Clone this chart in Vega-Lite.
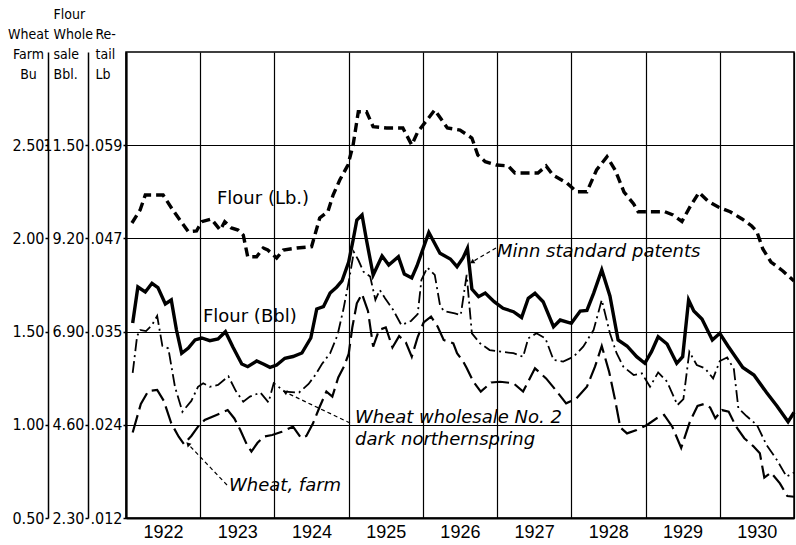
{
  "$schema": "https://vega.github.io/schema/vega-lite/v6.json",
  "width": 668,
  "height": 466,
  "autosize": {"type": "none"},
  "padding": {"left": 126, "top": 52, "right": 2, "bottom": 27},
  "background": "white",
  "config": {
    "view": {"stroke": "#000", "strokeWidth": 1.5},
    "font": "DejaVu Sans",
    "axis": {
      "domainColor": "#000", "tickColor": "#000", "labelColor": "#000", "titleColor": "#000",
      "gridColor": "#000", "gridOpacity": 1,
      "labelFont": "Liberation Sans Narrow, DejaVu Sans Condensed, Liberation Sans",
      "titleFont": "Liberation Sans Narrow, DejaVu Sans Condensed, Liberation Sans"
    }
  },
  "datasets": {
    "wheatFarm": [
      {"date":1922.09,"price":0.959},{"date":1922.20,"price":1.112},{"date":1922.30,"price":1.181},{"date":1922.42,"price":1.187},{"date":1922.51,"price":1.128},{"date":1922.61,"price":1.008},{"date":1922.71,"price":0.936},{"date":1922.78,"price":0.897},{"date":1922.88,"price":0.940},{"date":1922.97,"price":0.990},
      {"date":1923.06,"price":1.026},{"date":1923.22,"price":1.053},{"date":1923.37,"price":1.079},{"date":1923.46,"price":1.034},{"date":1923.54,"price":0.972},{"date":1923.63,"price":0.892},{"date":1923.69,"price":0.856},{"date":1923.77,"price":0.902},{"date":1923.85,"price":0.936},{"date":1923.97,"price":0.945},
      {"date":1924.10,"price":0.963},{"date":1924.25,"price":0.990},{"date":1924.36,"price":0.929},{"date":1924.43,"price":0.940},{"date":1924.52,"price":1.008},{"date":1924.61,"price":1.097},{"date":1924.70,"price":1.178},{"date":1924.78,"price":1.151},{"date":1924.86,"price":1.254},{"date":1924.94,"price":1.315},
      {"date":1925.00,"price":1.380},{"date":1925.05,"price":1.525},{"date":1925.11,"price":1.652},{"date":1925.18,"price":1.702},{"date":1925.26,"price":1.611},{"date":1925.33,"price":1.419},{"date":1925.41,"price":1.509},{"date":1925.50,"price":1.522},{"date":1925.59,"price":1.415},{"date":1925.68,"price":1.476},{"date":1925.77,"price":1.442},{"date":1925.85,"price":1.365},{"date":1925.93,"price":1.471},
      {"date":1926.01,"price":1.549},{"date":1926.11,"price":1.580},{"date":1926.20,"price":1.526},{"date":1926.28,"price":1.455},{"date":1926.41,"price":1.437},{"date":1926.46,"price":1.384},{"date":1926.54,"price":1.342},{"date":1926.59,"price":1.305},{"date":1926.68,"price":1.231},{"date":1926.78,"price":1.178},{"date":1926.92,"price":1.227},
      {"date":1927.04,"price":1.231},{"date":1927.22,"price":1.223},{"date":1927.35,"price":1.178},{"date":1927.51,"price":1.303},{"date":1927.66,"price":1.249},{"date":1927.80,"price":1.181},{"date":1927.93,"price":1.115},
      {"date":1928.07,"price":1.142},{"date":1928.21,"price":1.204},{"date":1928.32,"price":1.313},{"date":1928.41,"price":1.423},{"date":1928.51,"price":1.283},{"date":1928.59,"price":1.133},{"date":1928.66,"price":0.986},{"date":1928.75,"price":0.954},{"date":1928.88,"price":0.972},
      {"date":1929.02,"price":0.999},{"date":1929.15,"price":1.035},{"date":1929.25,"price":1.053},{"date":1929.36,"price":0.990},{"date":1929.48,"price":0.876},{"date":1929.60,"price":1.020},{"date":1929.70,"price":1.101},{"date":1929.79,"price":1.112},{"date":1929.87,"price":1.093},{"date":1929.94,"price":1.035},
      {"date":1930.03,"price":1.079},{"date":1930.12,"price":1.070},{"date":1930.22,"price":0.990},{"date":1930.33,"price":0.928},{"date":1930.45,"price":0.886},{"date":1930.54,"price":0.847},{"date":1930.60,"price":0.717},{"date":1930.69,"price":0.744},{"date":1930.81,"price":0.686},{"date":1930.91,"price":0.618},{"date":1931.00,"price":0.614}
    ],
    "wheatWholesale": [
      {"date":1922.09,"price":1.278},{"date":1922.15,"price":1.476},{"date":1922.19,"price":1.509},{"date":1922.27,"price":1.503},{"date":1922.35,"price":1.535},{"date":1922.42,"price":1.584},{"date":1922.49,"price":1.423},{"date":1922.57,"price":1.410},{"date":1922.66,"price":1.203},{"date":1922.76,"price":1.070},{"date":1922.88,"price":1.128},{"date":1922.97,"price":1.204},
      {"date":1923.04,"price":1.223},{"date":1923.13,"price":1.204},{"date":1923.24,"price":1.214},{"date":1923.38,"price":1.260},{"date":1923.48,"price":1.181},{"date":1923.58,"price":1.124},{"date":1923.67,"price":1.151},{"date":1923.81,"price":1.173},{"date":1923.92,"price":1.120},{"date":1923.99,"price":1.223},
      {"date":1924.14,"price":1.178},{"date":1924.33,"price":1.173},{"date":1924.46,"price":1.219},{"date":1924.55,"price":1.267},{"date":1924.64,"price":1.326},{"date":1924.75,"price":1.384},{"date":1924.85,"price":1.482},{"date":1924.93,"price":1.621},
      {"date":1925.00,"price":1.766},{"date":1925.07,"price":1.927},{"date":1925.13,"price":1.884},{"date":1925.20,"price":1.821},{"date":1925.29,"price":1.795},{"date":1925.36,"price":1.670},{"date":1925.42,"price":1.723},{"date":1925.49,"price":1.679},{"date":1925.60,"price":1.616},{"date":1925.71,"price":1.535},{"date":1925.84,"price":1.557},{"date":1925.93,"price":1.594},{"date":1925.98,"price":1.777},
      {"date":1926.06,"price":1.844},{"date":1926.16,"price":1.804},{"date":1926.23,"price":1.643},{"date":1926.28,"price":1.611},{"date":1926.43,"price":1.598},{"date":1926.51,"price":1.589},{"date":1926.59,"price":1.804},{"date":1926.66,"price":1.491},{"date":1926.77,"price":1.437},{"date":1926.90,"price":1.401},
      {"date":1927.06,"price":1.392},{"date":1927.22,"price":1.384},{"date":1927.35,"price":1.365},{"date":1927.42,"price":1.464},{"date":1927.53,"price":1.491},{"date":1927.65,"price":1.464},{"date":1927.76,"price":1.348},{"date":1927.89,"price":1.339},
      {"date":1928.03,"price":1.365},{"date":1928.16,"price":1.419},{"date":1928.30,"price":1.509},{"date":1928.41,"price":1.670},{"date":1928.52,"price":1.491},{"date":1928.61,"price":1.384},{"date":1928.70,"price":1.312},{"date":1928.84,"price":1.267},{"date":1928.95,"price":1.276},
      {"date":1929.06,"price":1.204},{"date":1929.17,"price":1.281},{"date":1929.29,"price":1.231},{"date":1929.43,"price":1.106},{"date":1929.51,"price":1.138},{"date":1929.59,"price":1.392},{"date":1929.69,"price":1.321},{"date":1929.80,"price":1.303},{"date":1929.91,"price":1.249},
      {"date":1930.00,"price":1.342},{"date":1930.10,"price":1.361},{"date":1930.19,"price":1.299},{"date":1930.25,"price":1.090},{"date":1930.36,"price":1.047},{"date":1930.50,"price":0.999},{"date":1930.63,"price":0.892},{"date":1930.77,"price":0.811},{"date":1930.90,"price":0.722},{"date":1931.00,"price":0.744}
    ],
    "flourBbl": [
      {"date":1922.09,"price":7.112},{"date":1922.16,"price":8.001},{"date":1922.26,"price":7.877},{"date":1922.35,"price":8.092},{"date":1922.43,"price":7.988},{"date":1922.53,"price":7.581},{"date":1922.61,"price":7.680},{"date":1922.68,"price":6.939},{"date":1922.75,"price":6.364},{"date":1922.84,"price":6.495},{"date":1922.93,"price":6.693},
      {"date":1923.02,"price":6.742},{"date":1923.13,"price":6.675},{"date":1923.24,"price":6.717},{"date":1923.34,"price":6.898},{"date":1923.44,"price":6.520},{"date":1923.56,"price":6.100},{"date":1923.64,"price":6.034},{"date":1923.76,"price":6.174},{"date":1923.85,"price":6.100},{"date":1923.94,"price":6.019},
      {"date":1924.03,"price":6.076},{"date":1924.14,"price":6.241},{"date":1924.25,"price":6.285},{"date":1924.37,"price":6.372},{"date":1924.49,"price":6.742},{"date":1924.57,"price":7.458},{"date":1924.66,"price":7.514},{"date":1924.75,"price":7.853},{"date":1924.84,"price":8.001},{"date":1924.91,"price":8.149},
      {"date":1925.00,"price":8.618},{"date":1925.06,"price":9.160},{"date":1925.11,"price":9.654},{"date":1925.18,"price":9.777},{"date":1925.24,"price":9.160},{"date":1925.33,"price":8.297},{"date":1925.45,"price":8.766},{"date":1925.54,"price":8.543},{"date":1925.67,"price":8.748},{"date":1925.75,"price":8.321},{"date":1925.85,"price":8.223},{"date":1925.92,"price":8.519},
      {"date":1926.08,"price":9.346},{"date":1926.23,"price":8.832},{"date":1926.37,"price":8.692},{"date":1926.46,"price":8.502},{"date":1926.54,"price":8.716},{"date":1926.60,"price":8.956},{"date":1926.66,"price":7.951},{"date":1926.75,"price":7.761},{"date":1926.84,"price":7.853},{"date":1926.96,"price":7.638},
      {"date":1927.08,"price":7.475},{"date":1927.22,"price":7.391},{"date":1927.33,"price":7.248},{"date":1927.42,"price":7.722},{"date":1927.51,"price":7.845},{"date":1927.62,"price":7.638},{"date":1927.76,"price":7.021},{"date":1927.85,"price":7.186},
      {"date":1928.00,"price":7.105},{"date":1928.12,"price":7.408},{"date":1928.21,"price":7.421},{"date":1928.30,"price":7.845},{"date":1928.41,"price":8.420},{"date":1928.52,"price":7.778},{"date":1928.63,"price":6.693},{"date":1928.75,"price":6.545},{"date":1928.88,"price":6.281},{"date":1928.99,"price":6.118},
      {"date":1929.08,"price":6.404},{"date":1929.17,"price":6.774},{"date":1929.29,"price":6.594},{"date":1929.42,"price":6.118},{"date":1929.50,"price":6.281},{"date":1929.58,"price":7.680},{"date":1929.65,"price":7.408},{"date":1929.76,"price":7.211},{"date":1929.90,"price":6.693},
      {"date":1930.00,"price":6.858},{"date":1930.11,"price":6.545},{"date":1930.31,"price":6.014},{"date":1930.46,"price":5.829},{"date":1930.63,"price":5.397},{"date":1930.77,"price":5.064},{"date":1930.92,"price":4.676},{"date":1931.00,"price":4.904}
    ],
    "flourLb": [
      {"date":1922.08,"price":0.04915},{"date":1922.19,"price":0.05080},{"date":1922.26,"price":0.05269},{"date":1922.50,"price":0.05269},{"date":1922.63,"price":0.05080},{"date":1922.84,"price":0.04805},{"date":1922.95,"price":0.04814},
      {"date":1923.02,"price":0.04931},{"date":1923.15,"price":0.04966},{"date":1923.27,"price":0.04826},{"date":1923.33,"price":0.04931},{"date":1923.42,"price":0.04852},{"date":1923.51,"price":0.04826},{"date":1923.58,"price":0.04763},{"date":1923.64,"price":0.04488},{"date":1923.76,"price":0.04488},{"date":1923.85,"price":0.04598},{"date":1923.91,"price":0.04573},
      {"date":1924.03,"price":0.04472},{"date":1924.12,"price":0.04573},{"date":1924.30,"price":0.04598},{"date":1924.50,"price":0.04615},{"date":1924.61,"price":0.04978},{"date":1924.72,"price":0.05058},{"date":1924.79,"price":0.05269},{"date":1924.88,"price":0.05459},{"date":1924.99,"price":0.05649},
      {"date":1925.06,"price":0.05903},{"date":1925.13,"price":0.06324},{"date":1925.24,"price":0.06324},{"date":1925.33,"price":0.06134},{"date":1925.51,"price":0.06118},{"date":1925.73,"price":0.06118},{"date":1925.85,"price":0.05903},{"date":1925.93,"price":0.06067},
      {"date":1926.16,"price":0.06346},{"date":1926.33,"price":0.06118},{"date":1926.50,"price":0.06092},{"date":1926.66,"price":0.05991},{"date":1926.74,"price":0.05776},{"date":1926.84,"price":0.05691},{"date":1926.99,"price":0.05649},
      {"date":1927.15,"price":0.05637},{"date":1927.24,"price":0.05548},{"date":1927.55,"price":0.05548},{"date":1927.66,"price":0.05637},{"date":1927.75,"price":0.05523},{"date":1927.94,"price":0.05421},
      {"date":1928.07,"price":0.05311},{"date":1928.21,"price":0.05311},{"date":1928.34,"price":0.05586},{"date":1928.48,"price":0.05754},{"date":1928.59,"price":0.05586},{"date":1928.71,"price":0.05307},{"date":1928.84,"price":0.05156},{"date":1928.90,"price":0.05058},
      {"date":1929.26,"price":0.05058},{"date":1929.37,"price":0.05016},{"date":1929.49,"price":0.04934},{"date":1929.60,"price":0.05121},{"date":1929.72,"price":0.05301},{"date":1929.84,"price":0.05193},{"date":1929.98,"price":0.05117},
      {"date":1930.14,"price":0.05058},{"date":1930.30,"price":0.04966},{"date":1930.43,"price":0.04877},{"date":1930.50,"price":0.04805},{"date":1930.58,"price":0.04586},{"date":1930.69,"price":0.04421},{"date":1930.85,"price":0.04307},{"date":1931.00,"price":0.04181}
    ],
    "labelsPlain": [
      {"date":1923.226,"price":2.211,"text":"Flour (Lb.)"},
      {"date":1923.037,"price":1.581,"text":"Flour (Bbl)"}
    ],
    "labelsItalic": [
      {"date":1926.999,"price":1.927,"text":"Minn standard patents"},
      {"date":1925.085,"price":1.036,"text":"Wheat wholesale No. 2"},
      {"date":1925.085,"price":0.918,"text":"dark northernspring"},
      {"date":1923.388,"price":0.673,"text":"Wheat, farm"}
    ],
    "leaders": [
      {"date":1926.985,"price":1.949,"date2":1926.662,"price2":1.873,"dir":240},
      {"date":1925.018,"price":1.010,"date2":1924.142,"price2":1.176,"dir":295},
      {"date":1923.361,"price":0.677,"date2":1922.835,"price2":0.897,"dir":316}
    ]
  },
  "layer": [
    {
      "data": {"name": "wheatFarm"},
      "mark": {"type": "line", "color": "#000", "strokeWidth": 2.2, "strokeDash": [18, 6]},
      "encoding": {
        "x": {"field": "date", "type": "quantitative",
          "scale": {"domain": [1922, 1931], "nice": false, "zero": false},
          "axis": {
            "orient": "bottom",
            "values": [1922, 1923, 1924, 1925, 1926, 1927, 1928, 1929, 1930, 1931],
            "format": "d", "title": null,
            "grid": true, "gridWidth": 1.2,
            "ticks": false, "domain": true, "domainWidth": 2,
            "labelOffset": 37, "labelPadding": 5, "labelFontSize": 18,
            "labelFont": "Liberation Sans",
            "labelFlush": false, "labelOverlap": false, "labelBound": false,
            "labelExpr": "datum.value >= 1931 ? '' : datum.label"
          }
        },
        "y": {"field": "price", "type": "quantitative",
          "scale": {"domain": [0.5, 3.0], "nice": false, "zero": false},
          "axis": {
            "orient": "left", "offset": 78,
            "values": [0.5, 1, 1.5, 2, 2.5], "format": ".2f",
            "grid": false, "domainWidth": 1.5, "tickSize": 3, "tickWidth": 1.5,
            "labelPadding": 1, "labelFontSize": 16,
            "title": ["Wheat", "Farm", "Bu"],
            "titleAngle": 0, "titleAlign": "center", "titleBaseline": "alphabetic",
            "titleX": -20, "titleY": -14, "titleLineHeight": 20,
            "titleFontSize": 14, "titleFontWeight": "normal"
          }
        }
      }
    },
    {
      "data": {"name": "wheatWholesale"},
      "mark": {"type": "line", "color": "#000", "strokeWidth": 1.8, "strokeDash": [12, 4, 2, 4]},
      "encoding": {
        "x": {"field": "date", "type": "quantitative", "scale": {"domain": [1922, 1931], "nice": false, "zero": false}, "axis": null},
        "y": {"field": "price", "type": "quantitative", "scale": {"domain": [0.5, 3.0], "nice": false, "zero": false}, "axis": null}
      }
    },
    {
      "data": {"name": "flourBbl"},
      "mark": {"type": "line", "color": "#000", "strokeWidth": 3.4},
      "encoding": {
        "x": {"field": "date", "type": "quantitative", "scale": {"domain": [1922, 1931], "nice": false, "zero": false}, "axis": null},
        "y": {"field": "price", "type": "quantitative",
          "scale": {"domain": [2.3, 13.8], "nice": false, "zero": false},
          "axis": {
            "orient": "left", "offset": 38,
            "values": [2.3, 4.6, 6.9, 9.2, 11.5], "format": ".2f",
            "grid": false, "domainWidth": 1.5, "tickSize": 3, "tickWidth": 1.5,
            "labelPadding": 1, "labelFontSize": 16,
            "title": ["Flour", "Whole", "sale", "Bbl."],
            "titleAngle": 0, "titleAlign": "left", "titleBaseline": "alphabetic",
            "titleX": -35, "titleY": -34, "titleLineHeight": 20,
            "titleFontSize": 14, "titleFontWeight": "normal"
          }
        }
      }
    },
    {
      "data": {"name": "flourLb"},
      "mark": {"type": "line", "color": "#000", "strokeWidth": 3.4, "strokeDash": [9, 5]},
      "encoding": {
        "x": {"field": "date", "type": "quantitative", "scale": {"domain": [1922, 1931], "nice": false, "zero": false}, "axis": null},
        "y": {"field": "price", "type": "quantitative",
          "scale": {"domain": [0.0118, 0.0708], "nice": false, "zero": false},
          "axis": {
            "orient": "left", "offset": 0,
            "values": [0.0118, 0.0236, 0.0354, 0.0472, 0.059],
            "labelExpr": "datum.value < 0.02 ? '.012' : datum.value < 0.03 ? '.024' : datum.value < 0.04 ? '.035' : datum.value < 0.05 ? '.047' : '.059'",
            "grid": true, "gridWidth": 1.2,
            "domainWidth": 2.2, "tickSize": 3, "tickWidth": 1.5,
            "labelPadding": 1, "labelFontSize": 16,
            "title": ["Re-", "tail", "Lb"],
            "titleAngle": 0, "titleAlign": "left", "titleBaseline": "alphabetic",
            "titleX": -31, "titleY": -14, "titleLineHeight": 20,
            "titleFontSize": 14, "titleFontWeight": "normal"
          }
        }
      }
    },
    {
      "data": {"name": "leaders"},
      "mark": {"type": "rule", "color": "#000", "strokeWidth": 1.2, "strokeDash": [4, 3]},
      "encoding": {
        "x": {"field": "date", "type": "quantitative", "scale": {"domain": [1922, 1931], "nice": false, "zero": false}, "axis": null},
        "y": {"field": "price", "type": "quantitative", "scale": {"domain": [0.5, 3.0], "nice": false, "zero": false}, "axis": null},
        "x2": {"field": "date2"},
        "y2": {"field": "price2"}
      }
    },
    {
      "data": {"name": "leaders"},
      "mark": {"type": "point", "shape": "triangle-up", "filled": true, "color": "#000", "size": 28, "opacity": 1},
      "encoding": {
        "x": {"field": "date2", "type": "quantitative", "scale": {"domain": [1922, 1931], "nice": false, "zero": false}, "axis": null},
        "y": {"field": "price2", "type": "quantitative", "scale": {"domain": [0.5, 3.0], "nice": false, "zero": false}, "axis": null},
        "angle": {"field": "dir", "type": "quantitative", "scale": null}
      }
    },
    {
      "data": {"name": "labelsPlain"},
      "mark": {"type": "text", "align": "left", "baseline": "middle", "font": "DejaVu Sans", "fontSize": 18, "color": "#000"},
      "encoding": {
        "x": {"field": "date", "type": "quantitative", "scale": {"domain": [1922, 1931], "nice": false, "zero": false}, "axis": null},
        "y": {"field": "price", "type": "quantitative", "scale": {"domain": [0.5, 3.0], "nice": false, "zero": false}, "axis": null},
        "text": {"field": "text"}
      }
    },
    {
      "data": {"name": "labelsItalic"},
      "mark": {"type": "text", "align": "left", "baseline": "middle", "font": "DejaVu Sans", "fontStyle": "italic", "fontSize": 18, "color": "#000"},
      "encoding": {
        "x": {"field": "date", "type": "quantitative", "scale": {"domain": [1922, 1931], "nice": false, "zero": false}, "axis": null},
        "y": {"field": "price", "type": "quantitative", "scale": {"domain": [0.5, 3.0], "nice": false, "zero": false}, "axis": null},
        "text": {"field": "text"}
      }
    }
  ],
  "resolve": {"scale": {"y": "independent"}, "axis": {"x": "independent", "y": "independent"}}
}
